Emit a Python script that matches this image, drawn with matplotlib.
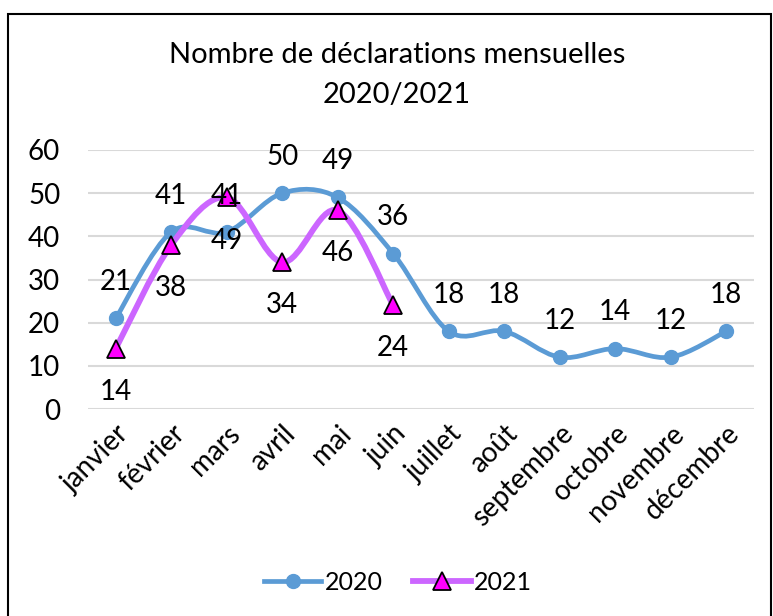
import matplotlib.pyplot as plt
from matplotlib.path import Path
from matplotlib.patches import PathPatch, Rectangle
from matplotlib.lines import Line2D

plt.rcParams['font.family'] = ['Lato', 'DejaVu Sans']

# data
months = ['janvier', 'février', 'mars', 'avril', 'mai', 'juin', 'juillet',
          'août', 'septembre', 'octobre', 'novembre', 'décembre']
values_2020 = [21, 41, 41, 50, 49, 36, 18, 18, 12, 14, 12, 18]
values_2021 = [14, 38, 49, 34, 46, 24]

blue = '#5B9BD5'
violet = '#CC66FF'
magenta = '#FF00FF'


def smooth_path(xs, ys):
    # Bezier curve through the points (Excel-like smoothed line)
    pts = list(zip(xs, ys))
    verts = [pts[0]]
    codes = [Path.MOVETO]
    n = len(pts)
    for i in range(n - 1):
        p0 = pts[i - 1] if i > 0 else pts[i]
        p1 = pts[i]
        p2 = pts[i + 1]
        p3 = pts[i + 2] if i + 2 < n else pts[i + 1]
        c1 = (p1[0] + (p2[0] - p0[0]) / 6, p1[1] + (p2[1] - p0[1]) / 6)
        c2 = (p2[0] - (p3[0] - p1[0]) / 6, p2[1] - (p3[1] - p1[1]) / 6)
        verts += [c1, c2, p2]
        codes += [Path.CURVE4] * 3
    return Path(verts, codes)


fig = plt.figure(figsize=(7.73, 6.16), dpi=100)
ax = fig.add_axes([88 / 773, 1 - 409 / 616, (754 - 88) / 773, (409 - 150) / 616])

x20 = list(range(len(values_2020)))
x21 = list(range(len(values_2021)))

ax.add_patch(PathPatch(smooth_path(x20, values_2020), facecolor='none',
                       edgecolor=blue, lw=3.4, capstyle='round', zorder=3))
ax.plot(x20, values_2020, 'o', color=blue, ms=10, zorder=4)
ax.add_patch(PathPatch(smooth_path(x21, values_2021), facecolor='none',
                       edgecolor=violet, lw=4.2, capstyle='round', zorder=5))
ax.plot(x21, values_2021, '^', color=magenta, mec='black', mew=1.3, ms=13, zorder=6)

for x, v in zip(x20, values_2020):
    ax.annotate(str(v), (x, v), xytext=(0, 26), textcoords='offset points',
                ha='center', va='center', fontsize=20, zorder=7)
for x, v in zip(x21, values_2021):
    ax.annotate(str(v), (x, v), xytext=(0, -31), textcoords='offset points',
                ha='center', va='center', fontsize=20, zorder=7)

ax.set_xlim(-0.5, 11.5)
ax.set_ylim(0, 60)
ax.set_yticks(range(0, 61, 10))
ax.set_xticks(x20)
ax.set_xticklabels(months, rotation=45, ha='right', rotation_mode='anchor')
ax.tick_params(axis='both', length=0, labelsize=20)
ax.tick_params(axis='y', pad=20)
ax.tick_params(axis='x', pad=8)
ax.grid(axis='y', color='#D9D9D9', lw=1.5)
ax.set_axisbelow(True)
for s in ax.spines.values():
    s.set_visible(False)

fig.text(397 / 773, 1 - 55 / 616, 'Nombre de déclarations mensuelles',
         ha='center', va='center', fontsize=21)
fig.text(397 / 773, 1 - 95 / 616, '2020/2021', ha='center', va='center', fontsize=21)

handles = [Line2D([], [], color=blue, lw=3.4, marker='o', ms=10),
           Line2D([], [], color=violet, lw=4.2, marker='^', mfc=magenta,
                  mec='black', mew=1.3, ms=13)]
fig.legend(handles, ['2020', '2021'], loc='center', bbox_to_anchor=(0.515, 1 - 582 / 616),
           ncol=2, frameon=False, fontsize=18, handlelength=2.3,
           handletextpad=0.15, columnspacing=1.2)

fig.add_artist(Rectangle((8 / 773, -0.05), (771 - 8) / 773, 1.05 - 14 / 616,
                         transform=fig.transFigure, fill=False,
                         edgecolor='black', lw=1.5))

fig.savefig('out.png', dpi=100)
